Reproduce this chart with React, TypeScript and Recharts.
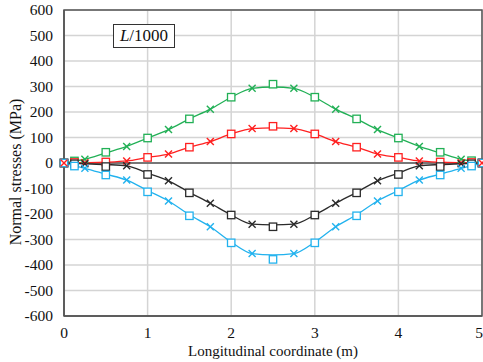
import {
  CartesianGrid,
  ComposedChart,
  Line,
  ReferenceArea,
  ReferenceLine,
  Scatter,
  XAxis,
  YAxis,
} from "recharts";

const FONT = '"Liberation Serif", "Times New Roman", serif';

// analytical curves, sampled every 0.25 m
const curveX = [
  0, 0.25, 0.5, 0.75, 1, 1.25, 1.5, 1.75, 2, 2.25, 2.5, 2.75, 3, 3.25, 3.5,
  3.75, 4, 4.25, 4.5, 4.75, 5,
];
const greenCurve = [
  0, 15, 40, 65, 98, 131, 173, 211, 258, 293, 298, 293, 258, 211, 173, 131, 98,
  65, 40, 15, 0,
];
const redCurve = [
  0, 1, 3, 8, 22, 35, 62, 84, 114, 135, 138, 135, 114, 84, 62, 35, 22, 8, 3, 1,
  0,
];
const blackCurve = [
  0, -3, -6, -11, -40, -70, -115, -158, -204, -240, -243, -240, -204, -158,
  -115, -70, -40, -11, -6, -3, 0,
];
const blueCurve = [
  0, -21, -44, -67, -108, -149, -203, -250, -310, -355, -360, -355, -310, -250,
  -203, -149, -108, -67, -44, -21, 0,
];

// square markers (FE results)
const squareX = [0, 0.125, 0.5, 1, 1.5, 2, 2.5, 3, 3.5, 4, 4.5, 4.875, 5];
const greenSq = [0, 8, 42, 98, 173, 258, 309, 258, 173, 98, 42, 9, 0];
const redSq = [0, 2, 4, 22, 62, 114, 144, 114, 62, 22, 4, 2, 0];
const blackSq = [0, -3, -14, -45, -117, -204, -250, -204, -117, -45, -14, -3, 0];
const blueSq = [0, -12, -47, -113, -207, -313, -378, -313, -207, -113, -47, -12, 0];

const endX = [0, 5];
const endVals = [0, 0];

const xTicks = [0, 1, 2, 3, 4, 5];
const yTicks = [-600, -500, -400, -300, -200, -100, 0, 100, 200, 300, 400, 500, 600];

const GREEN = "#22b056";
const RED = "#ff2020";
const BLACK = "#2b2b2b";
const BLUE = "#22b2ee";

const curveData = curveX.map((x, i) => ({
  x,
  g: greenCurve[i],
  r: redCurve[i],
  k: blackCurve[i],
  b: blueCurve[i],
}));

const pts = (xs: number[], ys: number[]) => xs.map((x, i) => ({ x, y: ys[i] }));

const cross = (cx: number, cy: number, color: string, key?: string | number) => (
  <g key={key}>
    <line x1={cx - 3.5} y1={cy - 3.5} x2={cx + 3.5} y2={cy + 3.5} stroke={color} strokeWidth={1.4} />
    <line x1={cx - 3.5} y1={cy + 3.5} x2={cx + 3.5} y2={cy - 3.5} stroke={color} strokeWidth={1.4} />
  </g>
);

const crossDot = (color: string) => (p: any) => {
  const { cx, cy, index } = p;
  if (index % 2 === 1) return cross(cx, cy, color, `c${index}`);
  return <g key={`n${index}`} />;
};

const square = (color: string) => (p: any) => (
  <rect
    x={p.cx - 3.7}
    y={p.cy - 3.7}
    width={7.4}
    height={7.4}
    fill="#fff"
    stroke={color}
    strokeWidth={1.3}
  />
);

const XTick = (p: any) => (
  <text x={p.x} y={p.y + 12} textAnchor="middle" fontFamily={FONT} fontSize={15.5} fill="#111">
    {p.payload.value}
  </text>
);

const YTick = (p: any) => (
  <text x={p.x} y={p.y + 5} textAnchor="end" fontFamily={FONT} fontSize={15.5} fill="#111">
    {p.payload.value}
  </text>
);

export default function App() {
  return (
    <div style={{ position: "absolute", left: 0, top: 0, width: 483, height: 362, background: "#fff", fontFamily: FONT }}>
      <ComposedChart
        width={483}
        height={362}
        data={curveData}
        margin={{ top: 10, right: 1, bottom: 0, left: 0 }}
      >
        <CartesianGrid stroke="#d4d4d4" strokeWidth={1.5} />
        <XAxis
          dataKey="x"
          type="number"
          domain={[0, 5]}
          ticks={xTicks}
          tick={<XTick />}
          tickLine={false}
          tickSize={0}
          tickMargin={10}
          axisLine={{ stroke: "#555", strokeWidth: 1.5 }}
          height={46}
          label={{
            value: "Longitudinal coordinate (m)",
            position: "insideBottom",
            offset: 6,
            style: { fontSize: 15, fill: "#111", fontFamily: FONT },
          }}
        />
        <YAxis
          type="number"
          domain={[-600, 600]}
          ticks={yTicks}
          tick={<YTick />}
          tickLine={false}
          tickSize={0}
          tickMargin={11}
          axisLine={{ stroke: "#555", strokeWidth: 1.5 }}
          width={64}
          label={{
            content: () => (
              <text
                x={15}
                y={172}
                transform="rotate(-90 15 172)"
                textAnchor="middle"
                dominantBaseline="central"
                fontSize={16}
                fill="#111"
                fontFamily={FONT}
              >
                Normal stresses (MPa)
              </text>
            ),
          }}
        />
        <ReferenceArea x1={0} x2={5} y1={-600} y2={600} fill="none" stroke="#555" strokeWidth={1.5} />
        <ReferenceLine y={0} stroke="#555" strokeWidth={1.5} />
        <Line type="monotone" dataKey="g" stroke={GREEN} strokeWidth={1.3} dot={crossDot(GREEN)} isAnimationActive={false} />
        <Line type="monotone" dataKey="r" stroke={RED} strokeWidth={1.3} dot={crossDot(RED)} isAnimationActive={false} />
        <Line type="monotone" dataKey="k" stroke={BLACK} strokeWidth={1.3} dot={crossDot(BLACK)} isAnimationActive={false} />
        <Line type="monotone" dataKey="b" stroke={BLUE} strokeWidth={1.3} dot={crossDot(BLUE)} isAnimationActive={false} />
        <Scatter data={pts(squareX, greenSq)} dataKey="y" shape={square(GREEN)} isAnimationActive={false} />
        <Scatter data={pts(squareX, redSq)} dataKey="y" shape={square(RED)} isAnimationActive={false} />
        <Scatter data={pts(squareX, blackSq)} dataKey="y" shape={square(BLACK)} isAnimationActive={false} />
        <Scatter data={pts(squareX, blueSq)} dataKey="y" shape={square(BLUE)} isAnimationActive={false} />
        <Scatter
          data={pts(endX, endVals)}
          dataKey="y"
          shape={(p: any) => cross(p.cx, p.cy, RED)}
          isAnimationActive={false}
        />
      </ComposedChart>
      <div
        style={{
          position: "absolute",
          left: 113,
          top: 24,
          width: 60,
          height: 22,
          border: "1px solid #333",
          background: "#fff",
          fontFamily: FONT,
          fontSize: 17,
          lineHeight: "22px",
          textAlign: "center",
          color: "#111",
        }}
      >
        <i>L</i>/1000
      </div>
    </div>
  );
}
